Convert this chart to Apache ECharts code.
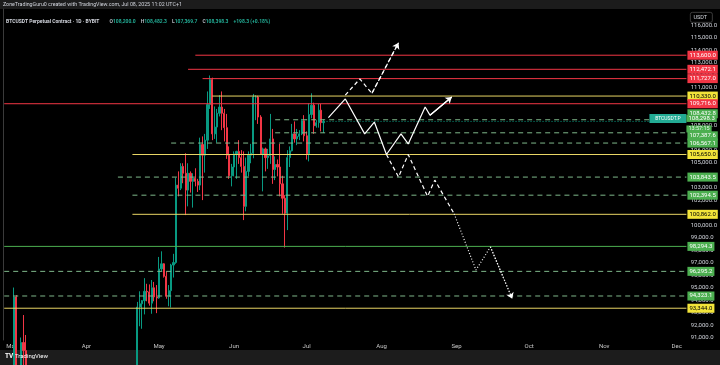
<!DOCTYPE html>
<html><head><meta charset="utf-8">
<script src="https://cdn.jsdelivr.net/npm/echarts@6/dist/echarts.min.js"></script>
<style>html,body{margin:0;padding:0;background:#000;}#c{width:720px;height:365px;}</style>
</head><body><div id="c"></div>
<script>
// ---------- data ----------
const candleDates = ['2025-03-01','2025-03-02','2025-03-03','2025-03-04','2025-03-05','2025-03-06','2025-03-07','2025-03-08',
'2025-04-21','2025-04-22','2025-04-23','2025-04-24','2025-04-25','2025-04-26','2025-04-27','2025-04-28','2025-04-29','2025-04-30',
'2025-05-01','2025-05-02','2025-05-03','2025-05-04','2025-05-05','2025-05-06','2025-05-07','2025-05-08','2025-05-09','2025-05-10',
'2025-05-11','2025-05-12','2025-05-13','2025-05-14','2025-05-15','2025-05-16','2025-05-17','2025-05-18','2025-05-19','2025-05-20',
'2025-05-21','2025-05-22','2025-05-23','2025-05-24','2025-05-25','2025-05-26','2025-05-27','2025-05-28','2025-05-29','2025-05-30','2025-05-31',
'2025-06-01','2025-06-02','2025-06-03','2025-06-04','2025-06-05','2025-06-06','2025-06-07','2025-06-08','2025-06-09','2025-06-10',
'2025-06-11','2025-06-12','2025-06-13','2025-06-14','2025-06-15','2025-06-16','2025-06-17','2025-06-18','2025-06-19','2025-06-20',
'2025-06-21','2025-06-22','2025-06-23','2025-06-24','2025-06-25','2025-06-26','2025-06-27','2025-06-28','2025-06-29','2025-06-30',
'2025-07-01','2025-07-02','2025-07-03','2025-07-04','2025-07-05','2025-07-06','2025-07-07','2025-07-08'];
const openVals = [84350,86050,94250,86100,87250,90600,89950,86700,
85070,87500,93440,93700,93950,94700,94650,93750,94980,94250,
94170,96490,96900,95900,94300,94750,96800,97000,103200,102950,
104700,104150,102800,104150,103500,103750,103500,103200,106450,105600,
106800,109650,111650,107300,107850,108950,109450,108950,107800,105600,103950,
104650,105700,105900,105400,104700,101500,104300,105600,105750,110250,
110250,108650,105650,106100,105400,105550,106900,104450,104850,104650,
103300,102150,100950,105400,105950,107300,106900,107100,107300,108350,
107150,105700,108850,109600,107950,108200,109200,108200];
const highVals = [86500,95000,94400,88900,91000,92800,91200,86850,
88480,93850,94700,94000,95750,95300,95250,95600,95450,95200,
97450,97900,96950,96300,95200,96900,97700,103800,104300,104950,
104950,105750,104950,104300,104150,104550,103700,107000,107100,107300,
110700,111980,111800,109500,109300,110400,110700,109300,108900,106300,104900,
105900,105950,106800,106000,105900,105400,105900,106500,110500,110400,
110350,108800,106200,106200,106100,108900,107700,105500,105250,106500,
103950,102400,106000,106300,108100,108300,107700,107600,108500,108800,
107500,109750,110550,109800,108400,109700,109700,108482.3];
const lowVals = [83600,85100,85100,81500,86300,87800,84700,85950,
85000,87000,91900,91700,92850,93900,93550,92900,93900,92950,
94100,96300,95800,94100,93500,93400,95800,96900,102300,102800,
103350,100800,101500,102600,101400,103100,102650,102800,102000,104200,
106100,109300,106800,106900,106600,108700,107600,106700,105300,103700,103100,
103900,103700,104900,104200,100400,101100,103900,104950,105350,108400,
108100,105700,102700,104300,104500,104900,103300,103600,103900,102300,
100900,98200,99600,104650,105900,106600,106400,106800,107200,106700,
105250,105100,108550,107300,107800,107800,107500,107369.7];
const closeVals = [86050,94250,86100,87250,90600,89950,86700,86200,
87500,93440,93700,93950,94700,94650,93750,94980,94250,94170,
96490,96900,95900,94300,94750,96800,97000,103200,102950,104700,
104150,102800,104150,103500,103750,103500,103200,106450,105600,106800,
109650,111650,107300,107850,108950,109450,108950,107800,105600,103950,104650,
105700,105900,105400,104700,101500,104300,105600,105750,110250,110250,
108650,105650,106100,105400,105550,106900,104450,104850,104650,103300,
102150,100950,105400,105950,107300,106900,107100,107300,108350,107150,
105700,108850,109600,107950,108200,109200,108200,108298.3];

const levelValues = [113600,112472.1,111727,110330,109716,108432.8,107387.6,106567.1,105650,103843.5,102394.5,100862,98294.3,96295.2,94323.1,93344];
const levelStarts = ['2025-05-16','2025-05-13','2025-05-19','2025-05-23','2025-02-26','2025-06-18','2025-06-18','2025-05-06','2025-04-20','2025-04-14','2025-04-20','2025-04-20','2025-02-26','2025-02-26','2025-02-26','2025-02-26'];
const levelKinds = ['resistance','resistance','resistance','key','resistance','target','target','target','key','target','target','key','support','target','target','key'];

const currentPrice = 108298.3;
const countdown = '13:57:15';

const yTicks = [91000,92000,93000,94000,95000,96000,97000,98000,99000,100000,101000,102000,103000,104000,105000,106000,107000,108000,109000,110000,111000,112000,113000,114000,115000,116000];
const monthNames = ['Jan','Feb','Mar','Apr','May','Jun','Jul','Aug','Sep','Oct','Nov','Dec'];

// projected paths
const solidDates = ['2025-07-10','2025-07-17','2025-07-25','2025-07-29','2025-08-03','2025-08-09','2025-08-12','2025-08-19','2025-08-21','2025-08-30'];
const solidVals  = [108600,110100,107300,108250,105650,107300,106500,109450,108800,110250];
const upDates = ['2025-07-17','2025-07-23','2025-07-28','2025-08-08'];
const upVals  = [110400,111700,110550,114600];
const downDates = ['2025-08-03','2025-08-08','2025-08-12','2025-08-20','2025-08-23','2025-08-31'];
const downVals  = [105650,103850,105650,102300,103600,100900];
const dotDates = ['2025-08-31','2025-09-09','2025-09-15','2025-09-24'];
const dotVals  = [100900,96400,98250,94100];

// ---------- build ----------
const cats = [];
{ let t = Date.UTC(2025,1,26); const end = Date.UTC(2025,11,5);
  while (t <= end) { cats.push(new Date(t).toISOString().slice(0,10)); t += 86400000; } }
const lastCat = cats[cats.length-1];
const fmt = v => v.toLocaleString('en-US',{minimumFractionDigits:1,maximumFractionDigits:1});
const FONT = 'Roboto';

const candleData = cats.map(c => {
  const i = candleDates.indexOf(c);
  return i < 0 ? '-' : [openVals[i], closeVals[i], lowVals[i], highVals[i]];
});

const kindStyle = {
  resistance: {line:'#f23645', dash:'solid', bg:'#f23645', fg:'#ffffff'},
  key:        {line:'#e8d565', dash:'solid', bg:'#f2e43a', fg:'#000000'},
  support:    {line:'#4caf50', dash:'solid', bg:'#4caf50', fg:'#ffffff'},
  target:     {line:'#7fb88a', dash:[5,4], bg:'#4caf50', fg:'#ffffff'}
};
const labelShift = {5:-6, 6:3};

const series = [{
  type:'candlestick', data:candleData, barWidth:'70%', z:2,
  itemStyle:{color:'#089981', color0:'#f23645', borderColor:'#089981', borderColor0:'#f23645', borderWidth:1}
}];

levelValues.forEach((v,i) => {
  const s = kindStyle[levelKinds[i]];
  series.push({
    type:'line', data:[[levelStarts[i], v],[lastCat, v]], symbol:'none', silent:true, z:4,
    lineStyle:{color:s.line, width:1, type:s.dash},
    endLabel:{show:true, formatter:() => fmt(v), backgroundColor:s.bg, color:s.fg,
      fontSize:6, fontFamily:FONT, padding:[2,2,1,2], distance:1, offset:[0, labelShift[i] || 0]}
  });
});

series.push({
  type:'line', data:[[candleDates[candleDates.length-1], currentPrice],[lastCat, currentPrice]],
  symbol:'none', silent:true, z:5,
  lineStyle:{color:'#089981', width:1, type:[1,2]},
  endLabel:{show:true, distance:1, offset:[-38, 3],
    formatter:() => '{tag|BTCUSDT.P}{p|' + fmt(currentPrice) + '}\n{sp|}{c|' + countdown + '}',
    rich:{
      tag:{backgroundColor:'#22ab94', color:'#fff', fontSize:5, fontFamily:FONT, width:37, align:'center', padding:[2,0]},
      p:{backgroundColor:'#4caf50', color:'#fff', fontSize:6, fontFamily:FONT, padding:[1,2,0,2]},
      sp:{width:37},
      c:{backgroundColor:'#4caf50', color:'#e8f5e9', fontSize:5.5, fontFamily:FONT, padding:[0,2,1,2]}
    }}
});

function pathSeries(dates, vals, type){
  const n = dates.length;
  const ls = {color:'#ffffff', width:1.2, type:type};
  return {
    type:'line', data:dates.map((d,i)=>[d, vals[i]]), symbol:'none', silent:true, z:6,
    lineStyle:ls,
    markLine:{silent:true, symbol:['none','arrow'], symbolSize:6, animation:false,
      lineStyle:ls, label:{show:false},
      data:[[{coord:[dates[n-2], vals[n-2]]},{coord:[dates[n-1], vals[n-1]]}]]}
  };
}
series.push(pathSeries(solidDates, solidVals, 'solid'));
series.push(pathSeries(upDates, upVals, [4,3]));
const dn = pathSeries(downDates, downVals, [4,3]); delete dn.markLine; series.push(dn);
series.push(pathSeries(dotDates, dotVals, [1,2]));

const option = {
  backgroundColor:'#000000',
  animation:false,
  grid:{left:3, right:32, top:9, bottom:25},
  title:{
    left:6, top:13, padding:0,
    text:'{n|BTCUSDT Perpetual Contract · 1D · BYBIT}  {l|O}{g|108,200.0} {l|H}{g|108,482.3} {l|L}{g|107,369.7} {l|C}{g|108,398.3} {g|+198.3 (+0.18%)}',
    textStyle:{rich:{
      n:{color:'#d1d4dc', fontSize:5, fontFamily:FONT},
      l:{color:'#b2b5be', fontSize:5, fontFamily:FONT},
      g:{color:'#22ab94', fontSize:5, fontFamily:FONT}
    }}
  },
  xAxis:{type:'category', data:cats, boundaryGap:true,
    axisLine:{show:false}, axisTick:{show:false}, splitLine:{show:false},
    axisLabel:{interval:(i,v)=>v.slice(8)==='01', formatter:v=>monthNames[+v.slice(5,7)-1],
      color:'#c8c8c8', fontSize:6, fontFamily:FONT, margin:3, overflow:'none'}},
  yAxis:[
    {type:'value', position:'right', min:90800, max:117300, scale:true,
      axisLine:{show:false}, axisTick:{show:false}, splitLine:{show:false},
      axisLabel:{customValues:yTicks, formatter:v=>fmt(v), color:'#d1d4dc', fontSize:6, fontFamily:FONT, margin:3}},
    {type:'value', position:'left', min:90800, max:117300,
      axisLine:{show:true, lineStyle:{color:'#3a3a3a'}}, axisTick:{show:false}, axisLabel:{show:false}, splitLine:{show:false}}
  ],
  graphic:[
    {type:'rect', left:0, top:0, shape:{width:720, height:9}, style:{fill:'#1c1c1c'}, z:0},
    {type:'text', left:3, top:2, style:{text:'ZoneTradingGuru0 created with TradingView.com, Jul 08, 2025 11:02 UTC+1', fill:'#d1d4dc', fontSize:5.3, fontFamily:FONT}, z:10},
    {type:'rect', left:0, top:350, shape:{width:720, height:15}, style:{fill:'#1c1c1c'}, z:0},
    {type:'text', left:5, top:353, style:{text:'TV', fill:'#ffffff', fontSize:6.5, fontWeight:'bold', fontFamily:FONT}, z:10},
    {type:'text', left:15, top:353.5, style:{text:'TradingView', fill:'#ffffff', fontSize:6, fontFamily:FONT}, z:10},
    {type:'rect', left:690, top:12, shape:{width:22, height:10, r:2}, style:{fill:'#000', stroke:'#555', lineWidth:0.7}, z:10},
    {type:'text', left:693.5, top:14.5, style:{text:'USDT', fill:'#d1d4dc', fontSize:5.5, fontFamily:FONT}, z:11}
  ],
  series:series
};
const chart = echarts.init(document.getElementById('c'), null, {renderer:'canvas'});
chart.setOption(option);
</script></body></html>
